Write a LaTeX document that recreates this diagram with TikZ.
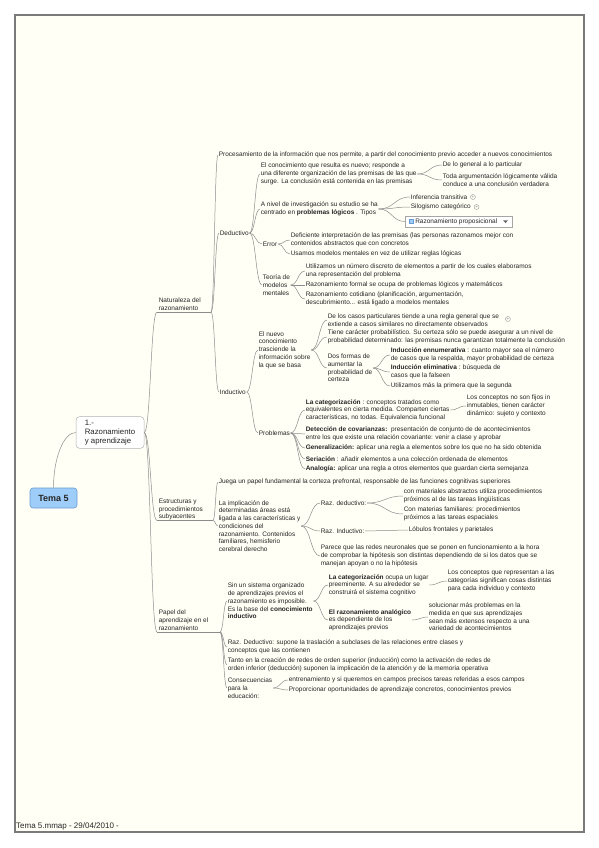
\documentclass[tikz,border=0pt]{standalone}
\usepackage{fontspec}
\setmainfont{Liberation Sans}
\usetikzlibrary{calc}
\definecolor{bgc}{HTML}{FFFFF5}
\definecolor{framec}{HTML}{7A7A7A}
\definecolor{linegray}{HTML}{8C8C8C}
\definecolor{txtcol}{HTML}{262626}
\definecolor{centerfill}{HTML}{9DCDF8}
\definecolor{centerdraw}{HTML}{6A9BD1}
\newcommand\mfs{\fontsize{6.5}{7.7}\selectfont}
\newcommand\lk[2]{\draw[conn] let \p1=(#1), \p2=(#2) in (\p1) .. controls ({0.5*\x1+0.5*\x2},\y1) and ({0.5*\x1+0.5*\x2},\y2) .. (\p2);}
\tikzset{
  conn/.style={draw=linegray, line width=0.5pt},
  tx/.style={anchor=west, align=left, inner sep=0.6pt, font=\mfs, text=txtcol},
  temabox/.style={draw=centerdraw, fill=centerfill, rounded corners=3pt, minimum width=47pt, minimum height=20pt, font=\bfseries\fontsize{9}{10}\selectfont, line width=0.6pt, text=txtcol},
  mainbox/.style={draw=gray!60, fill=white, rounded corners=3.5pt, minimum width=68pt, minimum height=29pt, align=left, font=\fontsize{7.8}{9}\selectfont, text=txtcol, line width=0.5pt},
  rpbox/.style={draw=gray!70, fill=white, anchor=west, font=\mfs, inner ysep=1.5pt, inner xsep=0pt, minimum height=11pt, text=txtcol, line width=0.5pt},
  plusic/.style={circle, draw=gray!80, inner sep=0pt, minimum size=5pt, font=\fontsize{4.5}{4.5}\selectfont, text=gray, line width=0.4pt}
}
\begin{document}
\begin{tikzpicture}[x=1pt,y=-1pt]
\useasboundingbox (0,0) rectangle (599,848);
\fill[white] (0,0) rectangle (599,848);
\fill[bgc] (15,15) rectangle (584,832);
\draw[framec, line width=1.2pt] (15,15) rectangle (584,832);
\node[anchor=south west, font=\fontsize{8}{9}\selectfont, inner sep=0.5pt, text=txtcol] (foot) at (15.5,831) {Tema 5.mmap - 29/04/2010 -};

% central
\node[temabox] (tema) at (53.5,498) {Tema 5};
\node[mainbox] (b1) at (110,432.5) {1.-\\Razonamiento\\y aprendizaje};
\draw[conn] (tema.north) .. controls +(0,-30) and +(-12,0) .. (b1.west);

% level 1
\node[tx] (nat) at (158,304) {Naturaleza del\\razonamiento};
\coordinate (natS) at (157,312); \coordinate (natE) at (211,312);
\node[tx] (estr) at (158,509.5) {Estructuras y\\procedimientos\\subyacentes};
\coordinate (estrS) at (157,520.5); \coordinate (estrE) at (213,520.5);
\node[tx] (papel) at (158,620) {Papel del\\aprendizaje en el\\razonamiento};
\coordinate (papS) at (157,632); \coordinate (papE) at (220,632);
\draw[conn] (natS) -- (natE);
\draw[conn] (estrS) -- (estrE);
\draw[conn] (papS) -- (papE);
\lk{b1.east}{natS} \lk{b1.east}{estrS} \lk{b1.east}{papS}

% Naturaleza
\node[tx] (proc) at (218,155) {Procesamiento de la información que nos permite, a partir del conocimiento previo acceder a nuevos conocimientos};
\node[tx] (ded) at (219,233) {Deductivo};
\node[tx] (ind) at (219,392) {Inductivo};
\lk{natE}{proc.west} \lk{natE}{ded.west} \lk{natE}{ind.west}

% Deductivo
\node[tx] (econ) at (260,174) {El conocimiento que resulta es nuevo; responde a\\una diferente organización de las premisas de las que\\surge. La conclusión está contenida en las premisas};
\node[tx] (aniv) at (260,209) {A nivel de investigación su estudio se ha\\centrado en \textbf{problemas lógicos} . Tipos};
\node[tx] (err) at (262,244) {Error};
\node[tx] (teor) at (262,285) {Teoría de\\modelos\\mentales};
\lk{ded.east}{econ.west} \lk{ded.east}{aniv.west} \lk{ded.east}{err.west} \lk{ded.east}{teor.west}

\node[tx] (gen) at (442,165) {De lo general a lo particular};
\node[tx] (toda) at (442,180) {Toda argumentación lógicamente válida\\conduce a una conclusión verdadera};
\lk{econ.east}{gen.west} \lk{econ.east}{toda.west}

\node[tx] (inf) at (410,197) {Inferencia transitiva};
\node[tx] (silo) at (410,207) {Silogismo categórico};
\node[rpbox] (rp) at (405,221.5) {\hspace{10pt}Razonamiento proposicional\hspace{15pt}\mbox{}};
\node[draw=centerdraw, fill=centerfill, minimum width=4pt, minimum height=4pt, inner sep=0pt, line width=0.4pt] (rpicon) at ($(rp.west)+(6,0)$) {};
\fill[gray!80!black] ($(rp.east)+(-9.5,-1.2)$) -- ++(5,0) -- ++(-2.5,2.8) -- cycle;
\node[plusic] (pl1) at ($(inf.east)+(5,0)$) {+};
\node[plusic] (pl2) at ($(silo.east)+(5,0)$) {+};
\lk{aniv.east}{inf.west} \lk{aniv.east}{silo.west} \lk{aniv.east}{rp.west}

\node[tx] (defi) at (290,240) {Deficiente interpretación de las premisas (las personas razonamos mejor con\\contenidos abstractos que con concretos};
\node[tx] (usam) at (290,254) {Usamos modelos mentales en vez de utilizar reglas lógicas};
\lk{err.east}{defi.west} \lk{err.east}{usam.west}

\node[tx] (util) at (305,271) {Utilizamos un número discreto de elementos a partir de los cuales elaboramos\\una representación del problema};
\node[tx] (rform) at (305,285) {Razonamiento formal se ocupa de problemas lógicos y matemáticos};
\node[tx] (rcot) at (305,299) {Razonamiento cotidiano (planificación, argumentación,\\descubrimiento... está ligado a modelos mentales};
\lk{teor.east}{util.west} \lk{teor.east}{rform.west} \lk{teor.east}{rcot.west}

% Inductivo
\node[tx] (nuevo) at (258,350) {El nuevo\\conocimiento\\trasciende la\\información sobre\\la que se basa};
\node[tx] (prob) at (258,433) {Problemas};
\lk{ind.east}{nuevo.west} \lk{ind.east}{prob.west}

\node[tx] (casos) at (327,320) {De los casos particulares tiende a una regla general que se\\extiende a casos similares no directamente observados};
\node[plusic] (pl3) at ($(casos.east)+(8,-1)$) {+};
\node[tx] (tiene) at (327,337) {Tiene carácter probabilístico. Su certeza sólo se puede asegurar a un nivel de\\probabilidad determinado: las premisas nunca garantizan totalmente la conclusión};
\node[tx] (dos) at (327,368) {Dos formas de\\aumentar la\\probabilidad de\\certeza};
\lk{nuevo.east}{casos.west} \lk{nuevo.east}{tiene.west} \lk{nuevo.east}{dos.west}

\node[tx] (ienn) at (390,355) {\textbf{Inducción ennumerativa} : cuanto mayor sea el número\\de casos que la respalda, mayor probabilidad de certeza};
\node[tx] (ielim) at (390,372) {\textbf{Inducción eliminativa} : búsqueda de\\casos que la falseen};
\node[tx] (umas) at (390,386) {Utilizamos más la primera que la segunda};
\lk{dos.east}{ienn.west} \lk{dos.east}{ielim.west} \lk{dos.east}{umas.west}

\node[tx] (cat) at (305,410) {\textbf{La categorización} : conceptos tratados como\\equivalentes en cierta medida. Comparten ciertas\\características, no todas. Equivalencia funcional};
\node[tx] (cov) at (305,434) {\textbf{Detección de covarianzas:}\ \ presentación de conjunto de de acontecimientos\\entre los que existe una relación covariante: venir a clase y aprobar};
\node[tx] (gnr) at (305,448) {\textbf{Generalización:} aplicar una regla a elementos sobre los que no ha sido obtenida};
\node[tx] (seri) at (305,459) {\textbf{Seriación} : añadir elementos a una colección ordenada de elementos};
\node[tx] (analo) at (305,469) {\textbf{Analogía:} aplicar una regla a otros elementos que guardan cierta semejanza};
\lk{prob.east}{cat.west} \lk{prob.east}{cov.west} \lk{prob.east}{gnr.west} \lk{prob.east}{seri.west} \lk{prob.east}{analo.west}
\node[tx] (fijos) at (466,406) {Los conceptos no son fijos in\\inmutables, tienen carácter\\dinámico: sujeto y contexto};
\lk{cat.east}{fijos.west}

% Estructuras
\node[tx] (jueg) at (218,482) {Juega un papel fundamental la corteza prefrontal, responsable de las funciones cognitivas superiores};
\node[tx] (impl) at (218,526) {La implicación de\\determinadas áreas está\\ligada a las características y\\condiciones del\\razonamiento. Contenidos\\familiares, hemisferio\\cerebral derecho};
\lk{estrE}{jueg.west} \lk{estrE}{impl.west}

\node[tx] (rded) at (320,503) {Raz. deductivo:};
\node[tx] (rind) at (320,531) {Raz. Inductivo:};
\node[tx] (parec) at (320,556) {Parece que las redes neuronales que se ponen en funcionamiento a la hora\\de comprobar la hipótesis son distintas dependiendo de si los datos que se\\manejan apoyan o no la hipótesis};
\lk{impl.east}{rded.west} \lk{impl.east}{rind.west} \lk{impl.east}{parec.west}

\node[tx] (cmat) at (403,496) {con materiales abstractos utiliza procedimientos\\próximos al de las tareas lingüísticas};
\node[tx] (cfam) at (403,514) {Con materias familiares: procedimientos\\próximos a las tareas espaciales};
\lk{rded.east}{cmat.west} \lk{rded.east}{cfam.west}
\node[tx] (lobu) at (408,530) {Lóbulos frontales y parietales};
\lk{rind.east}{lobu.west}

% Papel
\node[tx] (sinun) at (227,601) {Sin un sistema organizado\\de aprendizajes previos el\\razonamiento es imposible.\\Es la base del \textbf{conocimiento}\\\textbf{inductivo}};
\node[tx] (rdsup) at (227,647) {Raz. Deductivo: supone la traslación a subclases de las relaciones entre clases y\\conceptos que las contienen};
\node[tx] (tanto) at (227,665) {Tanto en la creación de redes de orden superior (inducción) como la activación de redes de\\orden inferior (deducción) suponen la implicación de la atención y de la memoria operativa};
\node[tx] (consec) at (227,688) {Consecuencias\\para la\\educación:};
\lk{papE}{sinun.west} \lk{papE}{rdsup.west} \lk{papE}{tanto.west} \lk{papE}{consec.west}

\node[tx] (cat2) at (328,585) {\textbf{La categorización} ocupa un lugar\\preeminente. A su alrededor se\\construirá el sistema cognitivo};
\node[tx] (analog) at (328,620) {\textbf{El razonamiento analógico}\\es dependiente de los\\aprendizajes previos};
\lk{sinun.east}{cat2.west} \lk{sinun.east}{analog.west}
\node[tx] (concep) at (447,581) {Los conceptos que representan a las\\categorías significan cosas distintas\\para cada individuo y contexto};
\lk{cat2.east}{concep.west}
\node[tx] (soluc) at (428,617) {solucionar más problemas en la\\medida en que sus aprendizajes\\sean más extensos respecto a una\\variedad de acontecimientos};
\lk{analog.east}{soluc.west}

\node[tx] (entr) at (288,680) {entrenamiento y si queremos en campos precisos tareas referidas a esos campos};
\node[tx] (propor) at (288,690) {Proporcionar oportunidades de aprendizaje concretos, conocimientos previos};
\lk{consec.east}{entr.west} \lk{consec.east}{propor.west}
\end{tikzpicture}
\end{document}
